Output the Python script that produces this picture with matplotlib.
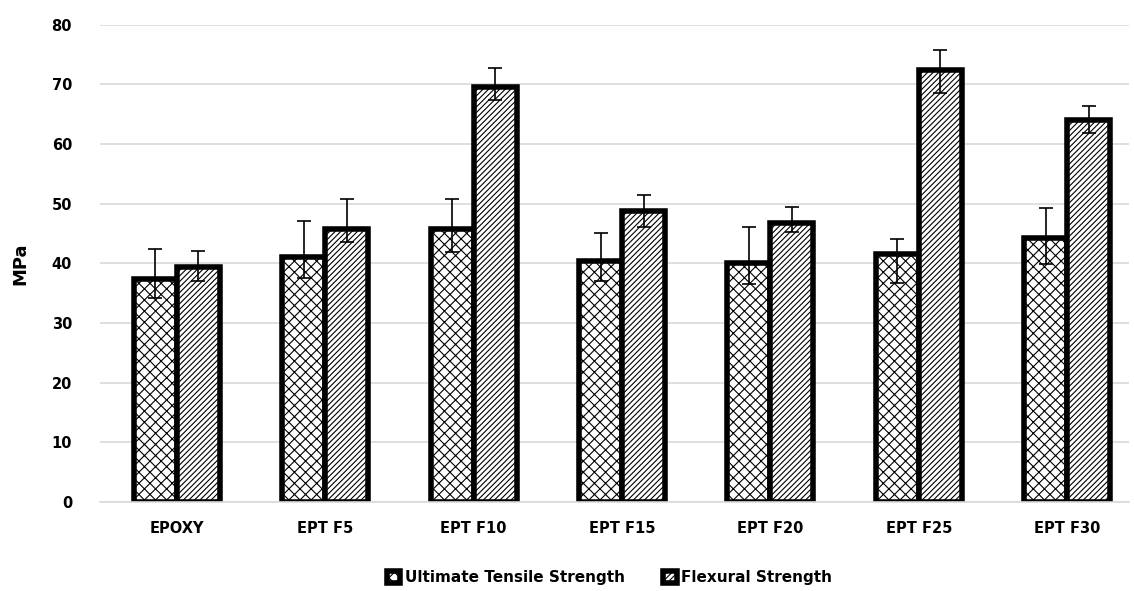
import numpy as np
import matplotlib.pyplot as plt

categories = ["EPOXY", "EPT F5", "EPT F10", "EPT F15", "EPT F20", "EPT F25", "EPT F30"]

uts = [37.4, 41.1, 45.8, 40.4, 40.1, 41.6, 44.3]
uts_upper = [42.4, 47.1, 50.8, 45.0, 46.1, 44.1, 49.3]
uts_lower = [34.2, 37.6, 41.9, 37.1, 36.6, 36.7, 39.9]

flex = [39.3, 45.8, 69.6, 48.7, 46.8, 72.4, 64.1]
flex_upper = [42.1, 50.8, 72.8, 51.5, 49.5, 75.8, 66.3]
flex_lower = [37.1, 43.5, 67.4, 46.1, 45.3, 68.5, 61.9]

yticks = [0, 10, 20, 30, 40, 50, 60, 70, 80]

plt.rcParams['hatch.linewidth'] = 0.8

fig = plt.figure(figsize=(11.34, 5.91), dpi=100)
ax = fig.add_axes([0.088, 0.151, 0.908, 0.807])

x = np.arange(len(categories))
w = 0.29

uts_err = [np.array(uts) - np.array(uts_lower), np.array(uts_upper) - np.array(uts)]
flex_err = [np.array(flex) - np.array(flex_lower), np.array(flex_upper) - np.array(flex)]

ax.bar(x - w / 2, uts, w, color="white", edgecolor="black", linewidth=4,
       hatch="xxx", label="Ultimate Tensile Strength", zorder=2)
ax.bar(x + w / 2, flex, w, color="white", edgecolor="black", linewidth=4,
       hatch="//////", label="Flexural Strength", zorder=2)

ax.errorbar(x - w / 2, uts, yerr=uts_err, fmt="none", ecolor="black",
            elinewidth=1.2, capsize=5, capthick=1.2, zorder=3)
ax.errorbar(x + w / 2, flex, yerr=flex_err, fmt="none", ecolor="black",
            elinewidth=1.2, capsize=5, capthick=1.2, zorder=3)

ax.set_ylim(0, 80)
ax.set_xlim(-0.52, 6.42)
ax.set_yticks(yticks)
ax.set_xticks(x)
ax.set_xticklabels(categories, fontsize=10.5, fontweight="bold")
ax.tick_params(axis="y", labelsize=10.5, length=0, pad=20)
ax.tick_params(axis="x", length=0, pad=14)
for lab in ax.get_yticklabels():
    lab.set_fontweight("bold")

ax.yaxis.grid(True, color="#d9d9d9", linewidth=1.2, zorder=0)
ax.set_axisbelow(True)
for s in ["top", "right", "left"]:
    ax.spines[s].set_visible(False)
ax.spines["bottom"].set_color("#d9d9d9")
ax.spines["bottom"].set_linewidth(1.2)

ax.set_ylabel("MPa", fontsize=13, fontweight="bold", labelpad=16)

leg = ax.legend(loc="upper center", bbox_to_anchor=(0.495, -0.115), ncol=2,
                frameon=False, handlelength=0.9, handleheight=0.9,
                handletextpad=0.3, columnspacing=2.5,
                prop={"size": 11, "weight": "bold"})

fig.savefig("out.png", dpi=100)
